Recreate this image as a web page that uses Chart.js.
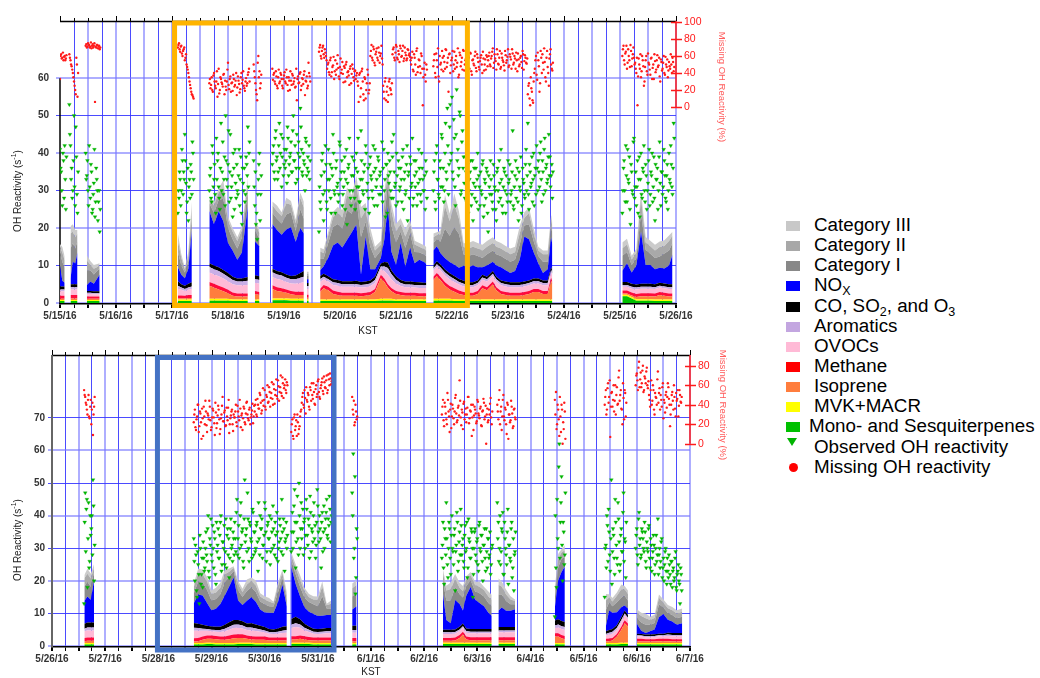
<!DOCTYPE html>
<html><head><meta charset="utf-8">
<script src="https://cdn.jsdelivr.net/npm/chart.js@4.4.0/dist/chart.umd.min.js"></script>
<style>
html,body{margin:0;padding:0;background:#fff;}
body{width:1040px;height:678px;position:relative;overflow:hidden;font-family:'Liberation Sans',Arial,sans-serif;}
#c1{position:absolute;left:0;top:0;}
#c2{position:absolute;left:0;top:340px;}
#legend{position:absolute;left:786px;top:215px;}
.row{position:relative;height:20.15px;line-height:20.15px;font-size:18.8px;color:#000;white-space:nowrap;}
.sw{position:absolute;left:0;top:6px;width:14px;height:10px;}
.tri{position:absolute;left:1px;top:1px;width:0;height:0;border-left:5.5px solid transparent;border-right:5.5px solid transparent;border-top:8px solid #00b400;}
.dot{position:absolute;left:3px;top:6px;width:9px;height:9px;border-radius:50%;background:#ff0000;}
.lbl{position:absolute;left:28px;top:0;}
sub{font-size:12.5px;line-height:0;vertical-align:-4px;}
</style></head>
<body>
<canvas id="c1" width="740" height="340"></canvas>
<canvas id="c2" width="740" height="338"></canvas>
<div id="legend"></div>
<script>
// ---------------- tick labels ----------------
const xLabelsTop=['5/15/16','5/16/16','5/17/16','5/18/16','5/19/16','5/20/16','5/21/16','5/22/16','5/23/16','5/24/16','5/25/16','5/26/16'];
const xLabelsBot=['5/26/16','5/27/16','5/28/16','5/29/16','5/30/16','5/31/16','6/1/16','6/2/16','6/3/16','6/4/16','6/5/16','6/6/16','6/7/16'];
const yTicksTop=[0,10,20,30,40,50,60];
const yTicksBot=[0,10,20,30,40,50,60,70];
const y2TicksTop=[0,20,40,60,80,100];
const y2TicksBot=[0,20,40,60,80];

// ---------------- top panel (hours after 5/15/16 00:00 KST) ----------------
const tTop=[[0,1,2],[4.5,5.5,6.5,7.5],[11.5,13,14.5,16,17],[50.5,52,53.5,55,56.5],[64,66,68,70,72,74,76,78,80.5],[83.5,85.5],[91,93,95,97,99,101,103,104.5],[105.8,106.6],
[111.5,113,115,117,119,121,123,125,127,129,131,133,135,137.5,139,140.5,142,144,146,148,150,152,154,156,157],
[160,161.5,163,165,167,169,171,173,175,177,179,181,183,185.5,187,189,191,193,195,197,199,201,203,205,207,209,210.5,211],
[241,243,245,247,249,251,253,255,257,259,261,262.5]];
const monoTop=[[.5,.5,.5],[.5,.5,.5,.5],[.5,.5,.5,.5,.5],[.5,.5,.5,.5,.5],[.6,.6,.6,.6,.6,.5,.5,.5,.5],[.5,.5],[.7,.7,.7,.7,.6,.6,.6,.6],[.5,.5],
[.5,.5,.5,.5,.5, .5,.5,.5,.5,.5, .5,.5,.5,.6,.6, .6,.6,.5,.5,.5, .5,.5,.5,.5,.5],
[.6,.6,.6,.6,.6, .5,.5,.5,.5,.5, .5,.5,.5,.5,.5, .5,.5,.5,.5,.5, .5,.5,.5,.5,.5, .5,.5,.5],
[1.8,1.8,1.2,.6,.6,.6,.6,.5,.5,.5,.5,.5]];
const mvkTop=[[.3,.3,.3],[.3,.3,.3,.3],[.3,.3,.3,.3,.3],[.4,.4,.4,.4,.4],[.5,.5,.5,.5,.5,.4,.4,.4,.4],[.4,.4],[.5,.5,.5,.5,.5,.5,.5,.5],[.4,.4],
[.4,.4,.4,.4,.4, .4,.4,.4,.4,.4, .4,.4,.4,.5,.5, .5,.5,.4,.4,.4, .4,.4,.4,.4,.4],
[.5,.5,.5,.5,.5, .5,.4,.4,.4,.4, .4,.4,.4,.4,.4, .4,.4,.4,.4,.4, .4,.4,.4,.4,.4, .4,.4,.4],
[.4,.4,.4,.4,.4,.4,.4,.4,.4,.4,.4,.4]];
const isoTop=[[.3,.3,.3],[.4,.4,.4,.4],[.3,.3,.3,.3,.3],[.3,.3,.3,.4,.4],[3.5,3,2.5,2,1.5,1,.8,.8,.8],[1.5,1.2],[2.5,2,1.8,1.5,1.2,1,1,1],[.5,.5],
[2,3,2.5,1.5,1.2, 1,1,1,1,.9, 1,1.2,2,5.5,4.5, 3,2,1.5,1.2,1, 1,1,.9,.9,.9],
[5,6,5,3.5,2.5, 2,1.5,1.2,1,1, 1.5,3,2.5,4,2.5, 1.5,1.2,1,1,1, 1.2,1.5,2,2,1.5, 1.5,5,4],
[.3,.3,.4,.6,.8,.8,.8,.8,1.2,1,.8,.8]];
const methTop=[[.8,.8,.8],[.9,.9,.9,.9],[.6,.6,.6,.6,.6],[.8,.8,.7,.8,.8],[1,1,1,1,.9,.9,.8,.8,.8],[.8,.8],[1,1,.9,.9,.9,.9,.9,.9],[.8,.8],
[.9,.9,.9,.9,.9, .8,.8,.8,.8,.8, .8,.8,.8,.9,.9, .9,.9,.8,.8,.8, .8,.8,.8,.8,.8],
[.9,.9,.9,.9,.9, .9,.9,.8,.8,.8, .8,.8,.8,.8,.8, .8,.8,.8,.8,.8, .8,.8,.8,.8,.8, .8,.8,.8],
[.8,.8,.8,.8,.8,.8,.8,.8,.8,.8,.8,.8]];
const ovocTop=[[1.2,1.2,1.2],[1.5,1.5,1.5,1.5],[.7,.7,.6,.6,.6],[1.8,1.5,1.3,1.4,1.6],[2.5,2.5,2.5,2.4,2.3,2.2,2.2,2.2,2.3],[2.2,2.2],[2.2,2.2,2.2,2,2,2.1,2.3,2.5],[1.5,1.5],
[1.8,1.5,1.4,1.5,1.6, 1.6,1.6,1.6,1.6,1.5, 1.5,1.6,1.6,1.5,2, 2.5,2.3,2,1.6,1.5, 1.5,1.4,1.4,1.4,1.4],
[1.5,1.6,1.8,1.8,1.8, 1.7,1.6,1.5,1.5,1.5, 1.5,1.5,1.5,1.5,1.5, 1.5,1.5,1.5,1.5,1.5, 1.5,1.5,1.5,1.5,1.5, 1.5,1.5,1.5],
[1,1,1,1.2,1.2,1.2,1.2,1.2,1.2,1.2,1.2,1.2]];
const aromTop=[[.5,.5,.5],[.6,.6,.6,.6],[.3,.3,.3,.3,.3],[.8,.6,.5,.6,.7],[1.5,1.4,1.4,1.3,1.2,1.1,1,1,1.1],[1,1],[1.3,1.2,1.2,1.1,1.1,1.2,1.4,1.5],[.8,.8],
[.8,.7,.6,.7,.7, .7,.7,.7,.7,.7, .7,.7,.8,.7,1.2, 1.8,1.4,1,.8,.7, .7,.7,.7,.7,.7],
[.7,.7,.7,.8,.8, .8,.7,.7,.6,.6, .6,.6,.6,.6,.6, .6,.6,.6,.6,.6, .6,.6,.6,.6,.6, .6,.6,.6],
[.5,.5,.5,.5,.5,.5,.5,.5,.5,.5,.5,.5]];
const coTop=[[.8,.8,.8],[.8,.8,.8,.8],[.5,.5,.5,.5,.5],[1.2,.9,.9,1,1.1],[1,1,1,1,1,.9,.8,.8,1],[1,1],[.9,.9,.9,.9,.9,1,1.3,1.5],[.8,.8],
[.8,.8,.8,.8,.8, .8,.8,.8,.9,.8, .8,.8,.9,.8,1.2, 1.5,1,.9,.8,.8, .8,.8,.8,.7,.7],
[.8,.8,.8,.8,.8, .8,.8,.8,.7,.7, .7,.7,.7,.7,.7, .7,.7,.7,.7,.7, .7,.7,.7,.7,.7, .7,.7,.7],
[.8,.8,.8,.8,.8,.8,.8,.8,.8,.8,.8,.8]];
const noxTop=[[5.5,1.5,1],[1.5,6,5.5,8.5],[1.5,2.5,2,3.5,4.5],[3.8,2.5,2,4,14],[14,11,15,13,8,7,5,7,19],[9,8],[12,11,10,12,13,9,12,10],[1,1],
[1.5,2,5,9,10, 9,11,13,15,2, 12,3,2,1.5,6, 15,5,3,10,4, 9,5,6,5.5,5],
[4,4,3,3,3, 3,3,4,4,4.5, 3.5,2,3,2.5,3, 3.5,3,2.5,3,6, 12,11,7,4,2, 3,8,7],
[3,5,3,5,14,5,5,4,4,4,5,8]];
const cat1Top=[[3.5,5,4],[8,5,4,3],[4,3,2.5,2,1.5],[4,2.5,1.5,2,4],[2,3,3,6,4,3,3,4,4],[3,2],[3,3,3,4,4,3,5,4],[1,1],
[3,2,4,5,5, 5,8,5,7,10, 4,6,3,2,6, 6,7,6,3,5, 4,3,2,2,2],
[2,2,3,8,7, 10,9,3,3,3, 3,2.5,3,3,3, 3,3,3,3,4, 3,4,3,2,3, 2,3,3],
[4,3,2,2,5,4,3,3,3,4,4,3]];
const cat2Top=[[1.5,2.5,2],[4,3,3,2],[2.5,1.5,1.5,1,1],[3,2,.8,1.5,2],[1,2,2,3,2,2,2,2,2],[2,1.5],[2,2,2,3,2,2,3,3],[.5,.5],
[2,1.5,2,2.5,3, 3,4,3,4,5, 3,3,2,1.5,4, 3,4,3,2,3, 2,2,1.5,1.5,1.5],
[1.5,1,2,6,4, 6,4,2,2,2, 2,2,2,2,2, 2,2,2,2,3, 2,3,2,1.5,2, 2,2,2],
[2,2,1.5,1.5,4,2,2,2,2.5,2,2.5,2]];
const cat3Top=[[.8,1.5,1],[2,2,2,1],[1.5,1,1,.8,.5],[2,1,.5,1,1.5],[.5,1,1,2,1,1,1,1,1.5],[1,1],[1,1.5,1,1.5,1,1,1.5,1.5],[.5,.5],
[1,1,1,1.5,1.5, 2,2,2,2,3, 2,2,1,1,3, 1.5,2,2,1.5,2, 1.5,1,1,1,1],
[1,.8,1,3,2, 3,2,1,1.5,1.5, 1.5,1.5,1.5,1.5,1.5, 1.5,1.5,1.5,1.5,2, 1.5,1.5,1.5,1,1, 1,1,1],
[1.5,1.5,1,1,2,1.5,1.5,1.5,1.5,1.5,1.5,1]];
// scatter: first hour of each run; readings every half hour (set A) and a quarter hour later (set B)
const scatStartTop=[0,4,11,50.5,64,83,91,111,160,241];
const obsTop=[[41,35,26,38,42,25],[53,42,36,30,50,26,39,24],[40,34,30,42,28,35,25,32,23,36,30,27,19],[24,28,33,30,38,35,45,32,27,22,33,37,29,40],
[30,36,27,40,33,29,44,38,31,25,48,35,29,39,50,33,37,27,45,31,23,36,41,28,30,34,26,39,21,32,36,29,37,47,40],
[38,26,21,17,33,40,29],
[37,42,33,46,39,35,48,40,31,44,37,36,41,47,34,39,43,35,50,38,32,45,40,36,52,41,34,38,30,43,36,35,33],
[19,27,34,40,22,30,37,25,41,33,28,36,45,30,24,38,32,29,42,35,26,31,39,33,21,36,44,28,34,30,38,25,40,35,31,27,46,33,29,37,42,30,36,24,39,33,28,35,41,31,26,38,34,29,43,36,30,23,37,40,32,35,28,39,45,31,26,34,38,30,36,27,41,33,29,37,22,35,39,31,44,28,34,38,26,32,36,29,40,33,30,25,35],
[30,38,25,42,33,28,36,45,31,27,40,35,52,29,47,38,55,33,44,26,57,41,36,50,30,46,39,28,35,42,24,33,38,29,22,36,31,27,40,34,26,30,37,23,33,28,35,19,31,38,29,25,34,30,22,36,27,32,41,26,31,35,24,29,38,33,27,30,46,25,34,28,36,22,31,39,26,33,29,37,30,48,25,35,32,27,40,34,29,36,38,31,43,27,35,41,30,37,33,45,39,34,28],
[24,36,30,42,27,33,39,21,35,29,44,31,26,38,33,23,40,28,35,30,37,25,32,41,29,34,27,39,22,33,36,30,43,26,35,31,38,28,34,25,40,32,37,29,48]];
const obsTopB=[[36,30,40,28,33,39],[45,33,28,38,31,47,29,35],[33,38,26,31,37,24,29,41,27,33,22,30,25],[30,35,26,41,29,33,38,24,36,31,28,35,43,33],
[34,28,42,31,37,24,33,40,28,36,30,43,33,26,38,31,46,35,28,34,40,25,32,37,29,41,33,24,36,30,27,39,34,31,43],
[31,35,24,29,37,22,34],
[40,35,44,38,33,42,36,45,39,34,41,38,32,44,37,40,35,46,38,42,36,33,43,39,47,35,40,37,44,34,39,42,38],
[31,25,38,29,35,42,27,33,30,37,24,34,40,29,36,31,27,43,33,38,29,35,25,41,32,37,30,26,39,34,28,36,31,44,27,33,38,30,35,25,40,32,28,37,34,30,42,26,36,33,39,29,35,31,27,41,33,37,24,34,38,30,43,28,35,32,40,27,36,31,33,39,25,35,30,42,34,28,37,32,26,38,31,35,29,41,33,27,36,30,34,38,28],
[35,27,40,33,29,38,31,44,36,30,48,33,42,37,53,40,35,49,31,45,38,34,51,29,43,36,32,39,27,37,30,35,26,38,32,28,36,33,25,31,35,29,38,26,32,36,24,34,29,33,27,37,31,25,35,30,38,28,33,24,36,30,34,27,32,37,29,35,26,31,38,33,27,35,30,24,36,32,28,41,34,29,37,31,39,33,26,36,42,30,35,40,33,38,29,44,36,32,39,34,31,37,35],
[30,38,27,34,41,32,25,37,30,43,28,35,31,24,39,33,29,36,42,27,34,30,38,26,35,40,31,28,37,33,25,39,32,35,29,41,34,27,37,30,33,42,31,36,44]];
const missTop=[[33,62,58,55,60,57],[62,55,48,40,30,20,58,12],[72,70,75,73,71,69,74,72,6,70,73,71,68],[70,75,65,72,60,68,55,62,47,40,30,22,15,12],
[28,22,35,18,40,25,30,12,45,20,33,27,38,15,24,30,52,21,36,28,19,33,26,40,23,31,17,35,28,42,22,30,25,38,45],
[50,35,20,8,60,42,28],
[45,38,30,42,25,35,28,40,33,22,37,30,44,26,35,20,31,39,27,34,24,8,36,29,41,25,33,38,14,30,22,52,36],
[65,73,57,70,62,68,60,45,52,38,58,41,49,33,55,44,61,36,47,40,53,29,46,50,35,42,26,48,39,45,31,43,37,30,6,40,22,45,15,35,10,28,38,20,60,73,55,68,49,65,58,70,52,63,57,25,10,34,18,6,30,22,15,62,70,55,73,58,66,53,69,60,72,57,64,55,68,61,59,50,65,42,58,38,69,47,55,40,60,2,45,38,50],
[48,62,35,55,69,30,50,44,58,60,45,67,52,18,63,49,58,42,65,55,47,69,38,61,53,44,66,50,57,52,60,45,63,38,56,49,65,42,58,47,54,61,40,57,50,44,59,55,64,48,60,69,52,57,44,62,50,66,47,58,53,43,61,55,68,49,59,45,63,52,57,64,42,56,50,60,46,62,54,58,51,15,28,2,22,8,30,45,60,32,55,18,66,40,52,69,35,58,47,25,62,50,43],
[60,72,50,65,45,68,55,73,48,62,58,52,40,2,57,45,35,60,48,30,55,42,63,50,38,58,46,33,54,44,61,49,36,56,43,52,40,59,47,35,53,45,50,58,42]];
const missTopB=[[60,57,64,59,55,61],[58,50,44,35,25,15,50,40],[74,71,73,70,76,72,70,75,71,73,69,72,70],[73,68,71,63,66,70,58,50,44,35,26,18,14,10],
[33,26,20,37,30,22,42,27,16,35,29,24,39,31,20,44,26,33,18,29,38,24,31,14,36,27,21,40,32,25,19,34,28,41,30],
[42,28,15,52,35,22,38],
[32,40,27,36,22,44,30,38,25,33,41,28,35,19,31,42,26,37,30,23,45,33,28,39,20,34,27,42,31,36,25,40,30],
[70,60,66,72,58,64,55,50,41,55,36,47,59,42,38,51,46,33,57,44,39,48,30,53,41,37,45,28,50,35,42,33,40,25,38,12,42,30,8,33,20,44,16,28,66,58,71,52,62,69,55,64,60,72,50,18,30,8,24,14,33,20,28,68,58,64,71,56,62,72,59,66,54,70,61,57,67,63,55,58,44,62,50,66,41,56,48,63,45,35,52,30,44],
[55,40,63,47,36,60,52,66,42,53,68,47,58,62,40,55,66,50,45,60,52,35,64,48,58,67,43,55,62,47,58,64,42,55,51,60,46,62,53,44,58,50,65,43,56,61,48,60,50,57,65,46,62,54,68,51,58,45,63,55,49,66,52,59,47,62,56,68,50,60,45,55,63,48,58,53,66,44,61,52,57,25,10,35,18,5,40,55,38,64,48,28,58,62,44,53,30,66,40,57,68,45,52],
[68,55,63,72,52,60,47,66,57,70,50,45,58,36,50,62,42,55,25,47,60,38,52,44,57,33,50,62,41,55,47,58,30,53,45,60,38,50,56,43,48,62,40,53,47]];

// ---------------- bottom panel (hours after 5/26/16 00:00 KST) ----------------
const tBot=[[14.6,16,17.5,19],[64,66,68,70,72,74,76,78,80,82,84,86,88,90,92,94,96,98,100,102,104,106],[108,110,112,114,116,118,120,122,124,126],[135.5,137.5],
[176.5,178,180,182,184,185.5,187,189,191,193,195,197,198.5],[201.5,203,205,207,209],[227,228.5,230,231.5],[250,251.5,253,255,257,258.5,260],[264,266,268,270,272,274,276,278,280,282,284.5]];
const monoBot=[[.5,.5,.5,.5],[.5,.5,.5,.6,.6,.5,.5,.5,.5,.5,.6,.6,.6,.6,.5,.5,.5,.5,.5,.5,.5,.5],[.6,.6,.6,.6,.6,.5,.5,.5,.5,.5],[.5,.5],
[.6,.6,.6,.6,.6,.6,.6,.6,.6,.6,.6,.6,.6],[.6,.6,.6,.6,.6],[.5,.5,.5,.5],[.5,.5,.5,.5,.6,.6,.6],[.5,.5,.5,.5,.5,.5,.5,.5,.5,.5,.5]];
const mvkBot=[[.4,.4,.4,.4],[.4,.4,.4,.4,.4,.4,.4,.4,.4,.4,.4,.4,.4,.4,.4,.4,.4,.4,.4,.4,.4,.4],[.4,.4,.4,.4,.4,.4,.4,.4,.4,.4],[.4,.4],
[.4,.4,.4,.4,.4,.4,.4,.4,.4,.4,.4,.4,.4],[.4,.4,.4,.4,.4],[.4,.4,.4,.4],[.4,.4,.4,.4,.4,.4,.4],[.4,.4,.4,.4,.4,.4,.4,.4,.4,.4,.4]];
const isoBot=[[.6,.7,.7,.7],[.5,.6,1,1.2,1.2,1.2,1,1,1.2,1.5,1.5,1.5,1.2,1,1,1,1,.8,.8,.8,.8,.8],[1,1,1.2,1,.8,.8,.8,.8,.8,.8],[.6,.6],
[.6,.6,.6,.7,1.5,2.5,1,.8,.8,.8,.8,.8,.8],[.8,.8,.8,.8,.8],[2,2,1.5,1.2],[.5,.6,.8,2,4,6,5],[.5,.5,.5,.5,.5,.6,.6,.6,.5,.5,.5]];
const methBot=[[1,1,1,1],[1,1,1,1,1,1,1,1,1.1,1.1,1.1,1.1,1,1,1,1,1,.9,.9,.9,.9,.9],[1,1,1,1,1,.9,.9,.9,.9,.9],[1,1],
[.9,.9,.9,.9,.9,.9,.9,.9,.9,.9,.9,.9,.9],[.9,.9,.9,.9,.9],[1,1,1,1],[.8,.8,.8,.8,.9,.9,.9],[.8,.8,.7,.7,.7,.7,.7,.7,.7,.7,.7]];
const ovocBot=[[2,2.2,2.2,2.2],[2.3,2.2,1.8,1.5,1.3,1.3,1.4,1.6,1.8,2,2,1.8,1.7,1.8,1.7,1.5,1.3,1.2,1.1,1.2,1.4,1.5],[2.5,2.8,2.4,1.8,1.5,1.2,1.1,1.2,1.3,1.3],[1.6,1.6],
[1.2,1.2,1.2,1.2,1.2,1.2,1.2,1.2,1.2,1.2,1.2,1.2,1.2],[1.5,1.5,1.5,1.5,1.5],[1.6,1.8,1.8,1.8],[1,1.2,1.3,1.3,1.5,1.5,1.3],[.8,.7,.6,.6,.7,.8,.8,.9,.9,.9,.9]];
const aromBot=[[.8,.9,.9,.9],[.9,.8,.6,.5,.5,.5,.6,.8,.9,1,1,.9,.8,.9,.8,.7,.6,.5,.5,.6,.7,.8],[1,1.2,1,.8,.7,.6,.6,.6,.6,.6],[.8,.8],
[.5,.5,.5,.5,.5,.5,.5,.5,.5,.5,.5,.5,.5],[.6,.6,.6,.6,.6],[.8,.9,.9,.9],[.5,.6,.6,.6,.6,.6,.5],[.3,.3,.3,.3,.3,.3,.3,.4,.4,.4,.4]];
const coBot=[[1.5,1.5,1.5,1.5],[1.5,1.3,1.2,1,1,1,1,1.2,1.4,1.5,1.4,1.3,1.2,1.3,1.2,1.1,1,.9,.9,1,1.2,1.2],[1.8,2,1.6,1.2,1,.9,.9,.9,1,1],[1.3,1.3],
[.8,.8,.8,.8,.8,.8,.8,.8,.8,.8,.8,.8,.8],[1,1,1,1,1],[1.5,1.6,1.6,1.6],[.8,.8,.8,.8,.9,.9,.8],[.5,.5,.5,.5,.5,.5,.5,.6,.6,.6,.6]];
const noxBot=[[7,8,7,13],[6,9,9,7,5,5.5,7,9,11,13,6,5,7,8,7,5,4.5,5,5,8,13,6],[16,10,7,5,4.5,4.5,4,4,4,4],[5,6],
[11,3,2,9,7,4,10,13,9,8,7,5,4],[5,6,5,5,5.5],[4,12,15,17],[1.5,6,5,4,3,1.5,2],[3,1,.5,1,1.5,5,6,4,3.5,2.5,3]];
const cat1Bot=[[4.5,4.5,4,2.5],[3,4,4,4,3,3,3,4,3,2,3,2.5,3,3,3,2.5,2.5,2,2,3,2,2],[2,3,3,3,3,3,3,6,2,2],[4,4],
[4,6,7,4,3,4,3,2,2.5,3,3,3,3],[5,4,3,2,1.5],[3,4,4,3],[5,2.5,2,3,3,3,2.5],[2,2.5,2.5,2,2,4,2,2,2,2,2]];
const cat2Bot=[[2.5,2.5,2.5,1.5],[2,2.5,2.5,2.5,2,2,2,2.5,1.5,1,2,1.5,2,2,2,1.5,1.5,1.5,1,2,1.5,1.5],[1.5,2,2,2,1.5,1.5,2,3,1,1.5],[2.5,2.5],
[2.5,3,3.5,2.5,2,2,2,1.5,2,2,2,2,2],[3,2.5,2,1.5,1],[2,2.5,2,2],[3,1.5,1.5,2,2.5,2,2],[1.5,2,2,1.5,1.5,2,1.5,1.5,1.5,1.5,1.5]];
const cat3Bot=[[1,1.5,1.5,1],[1,1.5,1.5,1.5,1,1.5,1.5,1.5,1,.5,1,1,1.5,1,1.5,1,1,1,.5,1,1,1],[1,1,1.5,1,1,1,1,1.5,.5,1],[1.5,1.5],
[1,1.5,2,1.5,1.5,1.5,1,1,1,1.5,1,1.5,1.5],[2,1.5,1.5,1,.5],[1,1.5,1,1.5],[2,1,1,1,1.5,1,1],[1,1,1.5,1,1,1,1,1,1,1,1]];
const scatStartBot=[14.5,64,108,135.5,176,201,227,249.5,263.5];
const obsBot=[[13,47,42,18,44,26,34,40,51,20],
[33,20,28,15,25,13,30,22,18,27,24,35,26,40,21,31,28,37,24,33,19,29,36,27,38,23,32,30,25,39,34,28,21,36,30,26,33,38,29,45,33,27,40,31,36,24,51,34,29,39,26,37,32,42,28,35,30,38,23,33,40,36,27,31,44,35,29,38,33,25,39,30,36,28,34,41,26,32,37,29,35,39,23,33,30],
[29,41,35,48,24,38,33,50,30,44,36,28,39,34,42,31,37,46,29,35,40,33,27,38,43,32,36,24,41,35,30,39,45,33,37,42,38],
[47,59,30,16,36],
[27,38,19,33,44,25,30,36,22,40,29,34,17,31,38,26,35,42,28,33,24,37,30,21,39,32,27,35,15,30,36,26,33,23,38,29,34,20,31,27,36,24,33,28,22,30],
[44,38,30,25,36,41,22,33,28,35,19,31,26,38,24,17,29],
[9,24,45,30,62,38,52,20,35,28],
[15,31,40,26,35,23,51,29,34,22,38,27,44,32,25,36,29,47,33,21],
[30,36,25,41,33,28,35,30,38,26,32,29,37,24,31,27,34,22,30,26,39,28,24,32,21,27,25,30,19,23,28,22,26,18,24,21,29,17,23,20,13,22]];
const obsBotB=[[38,29,45,33,24,40,36,28,43,31],
[26,31,17,29,22,34,19,27,32,23,30,28,36,23,33,39,26,30,35,22,38,31,27,34,40,25,32,37,29,24,36,33,27,39,31,35,28,33,41,28,37,30,44,35,26,39,32,36,47,30,38,33,27,41,35,29,37,32,44,28,36,39,31,34,42,26,37,33,40,29,35,43,31,38,27,35,30,39,33,45,28,36,32,38,34],
[35,30,43,38,32,46,28,40,36,33,42,38,30,45,34,39,27,41,36,32,44,37,31,48,35,40,33,38,29,43,36,41,34,39,46,32,40],
[40,27,52,21,33],
[31,24,36,28,33,21,38,27,34,30,25,36,29,41,23,32,28,37,31,26,34,29,38,24,33,27,36,30,22,35,28,32,25,37,30,34,26,31,36,23,29,33,27,35,25,31],
[33,26,40,29,35,22,38,30,25,42,31,27,36,21,33,28,35],
[40,18,33,55,27,44,31,38,25,47],
[30,24,37,42,28,33,19,36,27,45,31,25,39,23,34,29,41,26,32,38],
[34,28,39,31,27,36,33,29,35,24,30,36,27,33,23,29,31,25,34,28,22,30,26,33,24,20,29,23,27,21,25,19,26,23,20,27,18,22,25,19,24,17]];
const missBot=[[55,48,40,30,50,26,45,35,9,38],
[22,35,14,28,40,18,31,5,26,38,20,33,12,29,44,24,17,36,27,9,32,21,39,25,15,30,48,23,34,19,28,37,11,26,33,20,30,27,40,18,33,24,36,29,14,38,22,31,43,26,35,20,30,41,28,33,45,28,40,36,50,31,44,39,55,35,48,42,58,38,52,46,61,41,55,49,65,44,58,52,68,47,60,55,63],
[12,25,5,30,18,8,22,15,28,35,48,40,55,31,45,52,38,58,44,50,62,41,56,48,64,53,46,60,67,51,63,57,70,55,66,72,61],
[48,30,19,40,25],
[30,45,18,38,25,52,33,12,41,28,36,20,47,31,24,39,65,27,35,15,43,30,22,37,48,26,33,8,40,29,35,21,45,31,26,38,18,34,42,28,0,36,24,30,47,20],
[40,25,55,33,14,45,28,37,20,42,5,30,24,38,16,35,27],
[45,53,20,35,8,28,40,0,15,33],
[40,55,35,62,48,7,52,38,60,44,30,58,41,75,50,36,20,47,55,28],
[60,72,55,84,66,58,75,53,69,62,78,57,50,38,65,44,55,30,48,40,74,52,35,45,58,26,42,50,37,62,46,18,40,53,35,48,28,44,55,39,50,42]];
const missBotB=[[50,42,35,45,28,38,20,42,30,48],
[30,17,25,40,12,33,22,36,8,28,44,19,31,25,38,14,27,34,21,42,16,29,35,10,26,39,23,32,18,37,24,45,20,29,35,13,27,33,22,39,28,45,17,31,26,36,20,42,30,24,37,27,34,21,39,40,30,46,36,52,42,34,57,45,38,50,60,43,53,47,63,40,56,50,66,46,59,53,70,49,62,57,66,52,60],
[20,8,27,14,24,30,10,18,33,42,52,37,47,58,43,50,35,55,62,46,53,40,60,51,66,48,57,63,54,69,58,65,52,71,60,67,64],
[35,44,22,33,28],
[38,24,42,31,20,45,28,35,16,40,26,33,50,22,37,29,44,19,32,41,25,36,30,48,21,34,40,27,14,38,31,23,43,29,36,19,33,46,25,39,30,22,35,41,27,33],
[33,45,20,38,28,50,24,35,10,40,30,22,44,31,18,36,25],
[30,15,40,25,48,12,35,22,42,5],
[48,30,57,42,65,38,53,45,33,60,50,40,68,44,55,35,62,25,52,42],
[70,65,78,58,73,62,80,55,67,74,60,64,45,55,40,60,35,52,47,66,42,57,50,38,62,45,32,53,48,58,40,30,50,44,60,36,52,46,28,55,43,48]];

// highlighted periods (hours)
const boxTop=[49.1,174.6];
const boxBot=[47.6,127.3];

// ---------------- styling ----------------
const FONT="'Liberation Sans', Arial, Helvetica, sans-serif";
const layerNames=['Mono- and Sesquiterpenes','MVK+MACR','Isoprene','Methane','OVOCs','Aromatics','CO, SO2, and O3','NOx','Category I','Category II','Category III'];
const layerColors=['#00c000','#ffff00','#ff7d3d','#ff0a3c','#ffbad6','#c8aee6','#000000','#0000ff','#8a8a8a','#a9a9a9','#cbcbcb'];

function flatSeg(tSegs,vSegs,name){
  const pts=[];
  if(tSegs.length!==vSegs.length) throw new Error('segment count mismatch '+name);
  tSegs.forEach((seg,i)=>{
    if(seg.length!==vSegs[i].length) throw new Error('length mismatch '+name+' seg '+i+': '+seg.length+' vs '+vSegs[i].length);
    if(i>0){const p=tSegs[i-1];pts.push({x:(p[p.length-1]+seg[0])/2,y:null});}
    seg.forEach((t,j)=>pts.push({x:t,y:vSegs[i][j]}));
  });
  return pts;
}
function scat(starts,vals,off){
  const pts=[];
  vals.forEach((arr,i)=>arr.forEach((v,j)=>pts.push({x:starts[i]+off+0.5*j,y:v})));
  return pts;
}

function axisPlugin(o){
  return {
    id:'axes_'+o.id,
    beforeDatasetsDraw(chart){
      const {ctx,chartArea:a,scales:{x,y}}=chart;
      ctx.save();
      ctx.strokeStyle='#000';ctx.lineWidth=1.5;
      ctx.beginPath();ctx.moveTo(a.left,a.top+0.5);ctx.lineTo(a.right,a.top+0.5);ctx.stroke();
      ctx.lineWidth=1;
      x.ticks.forEach(t=>{const px=Math.round(x.getPixelForValue(t.value))+0.5;const L=(t.value%24===0)?5:3;
        ctx.beginPath();ctx.moveTo(px,a.top);ctx.lineTo(px,a.top-L);ctx.stroke();});
      ctx.strokeStyle=o.leftColor;ctx.lineWidth=o.leftWidth;
      const yTop=o.leftTo==null?a.top:y.getPixelForValue(o.leftTo);
      ctx.beginPath();ctx.moveTo(a.left,a.bottom);ctx.lineTo(a.left,yTop);ctx.stroke();
      ctx.restore();
    },
    afterDatasetsDraw(chart){
      const {ctx,chartArea:a,scales:{x,y2}}=chart;
      ctx.save();
      const bx0=x.getPixelForValue(o.box[0]),bx1=x.getPixelForValue(o.box[1]);
      ctx.strokeStyle=o.boxColor;ctx.lineWidth=5;
      const by0=a.top+o.boxDy[0],by1=a.bottom+o.boxDy[1];
      ctx.strokeRect(bx0,by0,bx1-bx0,by1-by0);
      ctx.strokeStyle='#ff1a1a';ctx.lineWidth=1.5;
      ctx.beginPath();ctx.moveTo(a.right,y2.getPixelForValue(0));ctx.lineTo(a.right,a.top);ctx.stroke();
      y2.ticks.forEach(t=>{const py=Math.round(y2.getPixelForValue(t.value))+0.5;
        ctx.beginPath();ctx.moveTo(a.right-5,py);ctx.lineTo(a.right+6,py);ctx.stroke();});
      ctx.fillStyle='#222';ctx.textBaseline='middle';
      ctx.translate(o.leftTitleX,o.leftTitleY);ctx.rotate(-Math.PI/2);
      ctx.font='10px '+FONT;
      const s1='OH Reactivity (s',s2='-1',s3=')';
      const w1=ctx.measureText(s1).width;ctx.font='7px '+FONT;const w2=ctx.measureText(s2).width;ctx.font='10px '+FONT;const w3=ctx.measureText(s3).width;
      let sx=-(w1+w2+w3)/2;ctx.textAlign='left';
      ctx.fillText(s1,sx,0);ctx.font='7px '+FONT;ctx.fillText(s2,sx+w1,-4);ctx.font='10px '+FONT;ctx.fillText(s3,sx+w1+w2,0);
      ctx.setTransform(1,0,0,1,0,0);
      ctx.translate(o.rightTitleX,o.rightTitleY);ctx.rotate(Math.PI/2);
      ctx.fillStyle='#ff5a5a';ctx.font='9.5px '+FONT;ctx.textAlign='center';
      ctx.fillText('Missing OH Reactivity (%)',0,0);
      ctx.restore();
    }
  };
}

function makeChart(id,o){
  const layers=[o.mono,o.mvk,o.iso,o.meth,o.ovoc,o.arom,o.co,o.nox,o.c1,o.c2,o.c3];
  const datasets=layers.map((segs,k)=>({
    type:'line',label:layerNames[k],data:flatSeg(o.t,segs,layerNames[k]),backgroundColor:layerColors[k],borderColor:layerColors[k],
    borderWidth:0,pointRadius:0,pointHoverRadius:0,fill:k===0?'origin':'-1',stack:'comp',yAxisID:'y',order:2,tension:0,spanGaps:false
  }));
  datasets.push({type:'line',label:'Observed OH reactivity',data:scat(o.sStart,o.obs,0).concat(scat(o.sStart,o.obsB,0.25)),showLine:false,pointStyle:'triangle',rotation:180,
    pointRadius:2.2,pointBackgroundColor:'#00b400',pointBorderColor:'#00b400',pointBorderWidth:0.3,stack:'obs',yAxisID:'y',order:1});
  datasets.push({type:'line',label:'Missing OH reactivity',data:scat(o.sStart,o.miss,0).concat(scat(o.sStart,o.missB,0.25)),showLine:false,pointStyle:'circle',
    pointRadius:1.2,pointBackgroundColor:'#ff1a1a',pointBorderColor:'#ff1a1a',pointBorderWidth:0,yAxisID:'y2',order:0});
  const xt=[];for(let h=0;h<=o.xMax;h+=6)xt.push(h);
  const light='rgba(120,120,255,0.6)',dark='rgba(55,55,255,0.9)';
  return new Chart(document.getElementById(id),{
    type:'line',
    data:{datasets},
    options:{
      responsive:false,animation:false,events:[],
      layout:{padding:{top:o.padTop,left:0,right:0,bottom:0}},
      plugins:{legend:{display:false},tooltip:{enabled:false}},
      scales:{
        x:{type:'linear',min:0,max:o.xMax,
          afterBuildTicks:s=>{s.ticks=xt.map(v=>({value:v}));},
          afterFit:s=>{s.height=o.xH;},
          ticks:{autoSkip:false,maxRotation:0,padding:2,color:'#333',font:{size:10,weight:'bold',family:FONT},
            callback:v=>(v%24===0?o.xLabels[v/24]:'')},
          grid:{color:c=>(o.hideFirstX&&c.index===0)?'rgba(0,0,0,0)':(c.index%2?dark:light),lineWidth:c=>(c.index%2?1:2),tickColor:'#000',tickLength:4},
          border:{color:'#000',width:1.5},
          title:{display:true,text:'KST',color:'#222',font:{size:10,family:FONT},padding:{top:0,bottom:o.kstPad}}},
        y:{type:'linear',position:'left',stacked:true,min:o.yMin,max:o.yMax,
          afterBuildTicks:s=>{s.ticks=o.yTicks.map(v=>({value:v}));},
          afterFit:s=>{s.width=o.yW;},
          ticks:{padding:o.yPad,color:'#333',font:{size:10,weight:'bold',family:FONT}},
          grid:{color:c=>(c.index%2?dark:light),lineWidth:c=>(c.index%2?1:2),tickLength:4},
          border:{display:false}},
        y2:{type:'linear',position:'right',min:o.y2Min,max:o.y2Max,
          afterBuildTicks:s=>{s.ticks=o.y2Ticks.map(v=>({value:v}));},
          afterFit:s=>{s.width=o.y2W;},
          ticks:{padding:8,color:'#ff1a1a',font:{size:10.5,family:FONT}},
          grid:{display:false,drawTicks:false},border:{display:false}}
      }
    },
    plugins:[axisPlugin(o)]
  });
}

makeChart('c1',{id:'top',t:tTop,mono:monoTop,mvk:mvkTop,iso:isoTop,meth:methTop,ovoc:ovocTop,arom:aromTop,co:coTop,nox:noxTop,c1:cat1Top,c2:cat2Top,c3:cat3Top,
  sStart:scatStartTop,obs:obsTop,obsB:obsTopB,miss:missTop,missB:missTopB,xMax:264,xLabels:xLabelsTop,yTicks:yTicksTop,y2Ticks:y2TicksTop,
  yMin:-0.3,yMax:75.3,y2Min:-231.8,y2Max:101.2,padTop:21,yW:60,y2W:64,xH:36,yPad:7,kstPad:3,hideFirstX:true,
  leftTo:60,leftColor:'#000',leftWidth:1.5,box:boxTop,boxColor:'#ffb400',boxDy:[2,1.5],
  leftTitleX:18,leftTitleY:191,rightTitleX:722,rightTitleY:87});
makeChart('c2',{id:'bot',t:tBot,mono:monoBot,mvk:mvkBot,iso:isoBot,meth:methBot,ovoc:ovocBot,arom:aromBot,co:coBot,nox:noxBot,c1:cat1Bot,c2:cat2Bot,c3:cat3Bot,
  sStart:scatStartBot,obs:obsBot,obsB:obsBotB,miss:missBot,missB:missBotB,xMax:288,xLabels:xLabelsBot,yTicks:yTicksBot,y2Ticks:y2TicksBot,
  yMin:-0.3,yMax:89.3,y2Min:-208.5,y2Max:91,padTop:15,yW:52,y2W:50,xH:31,yPad:3,kstPad:0,hideFirstX:false,
  leftTo:null,leftColor:'#666',leftWidth:2,box:boxBot,boxColor:'#4472c4',boxDy:[2.5,3],
  leftTitleX:18,leftTitleY:200,rightTitleX:723,rightTitleY:65});

// ---------------- legend ----------------
const legendLabels=['Category III','Category II','Category I','NO<sub>X</sub>','CO, SO<sub>2</sub>, and O<sub>3</sub>','Aromatics','OVOCs','Methane','Isoprene','MVK+MACR','Mono- and Sesquiterpenes','Observed OH reactivity','Missing OH reactivity'];
const legendSwatch=['#c8c8c8','#a8a8a8','#888888','#0000ff','#000000','#c3a6e0','#ffbad6','#ff0000','#ff7d3d','#ffff00','#00c000','tri','dot'];
const lg=document.getElementById('legend');
legendLabels.forEach((txt,i)=>{
  const r=document.createElement('div');r.className='row';
  const sw=legendSwatch[i];
  let mk;
  if(sw==='tri'){mk='<span class="tri"></span>';}
  else if(sw==='dot'){mk='<span class="dot"></span>';}
  else{mk='<span class="sw" style="background:'+sw+'"></span>';}
  const left=(i===10)?23:28;
  r.innerHTML=mk+'<span class="lbl" style="left:'+left+'px">'+txt+'</span>';
  lg.appendChild(r);
});
</script>
</body></html>
